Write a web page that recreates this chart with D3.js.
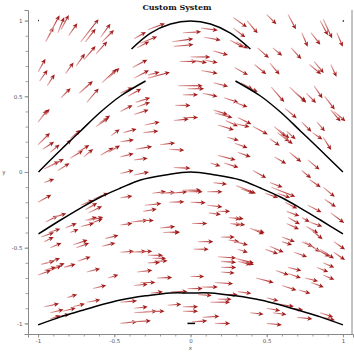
<!DOCTYPE html>
<html><head><meta charset="utf-8">
<script src="https://cdn.jsdelivr.net/npm/d3@7"></script>
<style>body{margin:0;background:#fff}svg{display:block}</style>
</head><body>
<svg id="c" width="354" height="354"></svg>
<script>
const title = "Custom System";
const xLabel = "x", yLabel = "y";
const xTicks = [-1, -0.5, 0, 0.5, 1];
const xTickLabels = ["-1", "-0.5", "0", "0.5", "1"];
const yTicks = [-1, -0.5, 0, 0.5, 1];
const yTickLabels = ["-1", "-0.5", "0", "0.5", "1"];

// solution curves (x, y)
const curve1X = [-0.387, -0.262, -0.131, 0, 0.131, 0.262, 0.393];
const curve1Y = [0.812, 0.917, 0.977, 0.997, 0.977, 0.917, 0.812];
const curve2aX = [-0.997, -0.852, -0.721, -0.590, -0.459, -0.295];
const curve2aY = [0, 0.145, 0.271, 0.396, 0.502, 0.601];
const curve2bX = [0.295, 0.459, 0.590, 0.721, 0.852, 1.0];
const curve2bY = [0.601, 0.502, 0.396, 0.271, 0.145, 0];
const curve3X = [-0.997, -0.852, -0.721, -0.590, -0.459, -0.328, -0.164, 0, 0.164, 0.328, 0.459, 0.590, 0.721, 0.852, 1.0];
const curve3Y = [-0.409, -0.317, -0.238, -0.165, -0.106, -0.053, -0.020, 0, -0.020, -0.053, -0.106, -0.165, -0.238, -0.317, -0.409];
const curve4X = [-1.0, -0.852, -0.721, -0.590, -0.459, -0.295, -0.131, 0, 0.131, 0.295, 0.459, 0.590, 0.721, 0.852, 1.0];
const curve4Y = [-1.01, -0.957, -0.917, -0.878, -0.845, -0.818, -0.799, -0.799, -0.799, -0.818, -0.845, -0.878, -0.917, -0.957, -1.01];
const curve5X = [-0.02, 0.03], curve5Y = [-1.0, -1.0];
const curve6X = [-1.0, -0.995], curve6Y = [1.0, 1.0];
const curve7X = [1.0, 1.005], curve7Y = [1.0, 0.995];

// arrows: [tail x, tail y, angle (deg), length]
const arrowsTop = [[-0.95,0.86,62,0.11],[-0.92,0.92,62,0.13],[-0.87,0.92,68,0.11],[-0.85,0.94,62,0.11],[-0.80,0.90,55,0.10],[-0.72,0.86,52,0.19],[-0.69,0.86,52,0.11],[-0.59,0.89,54,0.11],[-0.58,0.86,45,0.11],[-0.37,0.88,30,0.09],[-0.35,0.82,28,0.09],[-0.28,0.94,20,0.12],[-0.33,0.85,22,0.12],[-0.12,0.86,8,0.14],[-0.11,0.83,5,0.13],[-0.05,0.92,3,0.12],[0.00,0.76,0,0.13],[0.07,0.95,-7,0.11],[0.09,0.89,-10,0.11],[0.15,0.80,-16,0.10],[0.26,0.87,-28,0.10],[0.28,1.02,-35,0.11],[0.37,1.00,-50,0.11],[0.28,0.95,-37,0.10],[0.30,0.86,-30,0.09],[0.50,1.04,-45,0.09],[0.64,1.04,-62,0.11],[0.44,0.82,-42,0.10],[0.54,0.82,-40,0.08],[0.73,0.92,-67,0.10],[0.79,0.92,-52,0.10],[0.85,1.00,-62,0.11],[0.87,1.01,-65,0.14],[0.96,0.92,-67,0.10],[0.66,0.82,-48,0.10],[-0.70,0.74,50,0.12],[-0.62,0.78,48,0.11],[-0.75,0.70,55,0.10]];
const arrowsLeftMid = [[-1.00,0.66,61,0.10],[-0.99,0.60,55,0.09],[-0.94,0.57,57,0.09],[-0.82,0.65,54,0.09],[-0.85,0.49,45,0.09],[-0.73,0.52,42,0.12],[-0.68,0.46,50,0.12],[-0.58,0.59,43,0.13],[-0.54,0.62,42,0.10],[-1.00,0.33,52,0.10],[-0.98,0.36,45,0.08],[-0.62,0.30,35,0.10],[-0.60,0.32,36,0.09],[-0.52,0.24,38,0.07],[-1.00,0.18,45,0.11],[-0.97,0.15,33,0.09],[-0.92,0.13,40,0.08],[-0.84,0.16,42,0.08],[-0.79,0.09,32,0.10],[-0.74,0.13,32,0.09],[-0.70,0.10,40,0.08],[-0.96,0.02,27,0.11],[-0.92,0.04,27,0.10],[-0.87,0.01,32,0.09],[-0.59,0.11,31,0.10],[-0.54,0.13,30,0.09],[-0.79,0.22,40,0.09]];
const arrowsCenterTop = [[-0.38,0.69,28,0.11],[-0.37,0.62,28,0.11],[-0.28,0.64,15,0.08],[-0.28,0.62,15,0.15],[-0.46,0.52,25,0.09],[-0.41,0.50,30,0.10],[-0.36,0.46,18,0.10],[-0.35,0.43,20,0.09],[-0.46,0.40,27,0.09],[-0.37,0.38,18,0.10],[-0.30,0.31,12,0.10],[-0.31,0.26,6,0.10],[-0.44,0.26,16,0.09],[-0.46,0.20,8,0.09],[-0.36,0.15,10,0.11],[-0.46,0.10,14,0.09],[-0.37,0.08,7,0.09],[-0.20,0.18,7,0.10],[-0.14,0.15,-4,0.10],[-0.11,0.03,-3,0.11],[-0.46,-0.01,14,0.09],[-0.37,-0.02,12,0.10],[-0.07,0.73,0,0.11],[0.00,0.74,-10,0.11],[0.07,0.67,-10,0.11],[-0.08,0.57,0,0.16],[-0.02,0.55,0,0.11],[-0.05,0.51,0,0.10],[-0.10,0.44,0,0.10],[-0.05,0.36,0,0.10],[-0.11,0.34,6,0.10],[0.08,0.52,-12,0.10],[0.15,0.59,-15,0.10],[0.22,0.49,-18,0.10],[0.15,0.41,-18,0.10],[0.16,0.39,-15,0.12],[0.18,0.31,-17,0.11],[0.23,0.34,-25,0.09],[0.24,0.23,-16,0.08],[0.18,0.11,-15,0.12],[0.22,0.06,-18,0.10],[0.13,0.06,-18,0.07],[0.09,0.74,-12,0.09]];
const arrowsRightTop = [[0.42,0.71,-40,0.10],[0.52,0.72,-50,0.10],[0.29,0.69,-30,0.10],[0.33,0.59,-30,0.09],[0.35,0.57,-24,0.10],[0.78,0.71,-40,0.10],[0.81,0.73,-50,0.10],[0.92,0.71,-65,0.09],[0.53,0.56,-49,0.13],[0.65,0.56,-43,0.15],[0.68,0.53,-40,0.10],[0.76,0.52,-45,0.09],[0.81,0.57,-56,0.10],[0.88,0.50,-53,0.11],[0.92,0.41,-50,0.10],[0.94,0.40,-40,0.10],[0.29,0.46,-20,0.09],[0.31,0.36,-26,0.10],[0.29,0.32,-13,0.10],[0.41,0.30,-28,0.11],[0.62,0.42,-40,0.10],[0.55,0.30,-42,0.10],[0.57,0.26,-37,0.10],[0.73,0.33,-45,0.09],[0.83,0.33,-50,0.08],[0.87,0.23,-58,0.10],[0.29,0.19,-20,0.09],[0.31,0.13,-20,0.09],[0.41,0.01,-30,0.10],[0.55,0.10,-30,0.09],[0.65,0.13,-40,0.10],[0.77,0.08,-40,0.10],[0.73,0.01,-40,0.08],[0.80,0.26,-35,0.08],[0.58,0.28,-40,0.09],[0.60,0.24,-38,0.09],[0.63,0.27,-42,0.08],[0.52,0.22,-35,0.08]];
const arrowsCenterBottom = [[-0.25,-0.14,7,0.09],[-0.20,-0.14,3,0.10],[-0.13,-0.14,5,0.11],[-0.05,-0.12,0,0.12],[-0.02,-0.13,0,0.10],[-0.46,-0.17,8,0.08],[0.15,-0.07,-7,0.09],[0.11,-0.13,0,0.10],[-0.30,-0.22,6,0.11],[-0.31,-0.26,10,0.09],[-0.14,-0.20,2,0.10],[0.00,-0.20,-2,0.10],[0.11,-0.22,-6,0.10],[0.12,-0.27,-8,0.08],[0.18,-0.26,0,0.08],[-0.39,-0.33,6,0.11],[-0.34,-0.32,0,0.10],[-0.46,-0.35,8,0.08],[-0.20,-0.37,6,0.10],[-0.18,-0.40,2,0.11],[-0.15,-0.40,0,0.08],[0.01,-0.34,0,0.10],[0.25,-0.30,-8,0.08],[0.26,-0.34,-8,0.07],[0.05,-0.46,0,0.10],[0.02,-0.51,0,0.10],[0.20,-0.43,0,0.09],[0.25,-0.45,-8,0.07],[-0.46,-0.53,4,0.09],[-0.39,-0.53,4,0.10],[-0.35,-0.53,4,0.10],[-0.28,-0.55,0,0.10],[-0.25,-0.57,0,0.09],[-0.24,-0.59,2,0.09],[-0.28,-0.60,2,0.08],[0.18,-0.56,-4,0.12],[0.20,-0.59,-4,0.10],[0.20,-0.63,0,0.10],[-0.35,-0.66,6,0.10],[0.00,-0.69,0,0.09],[-0.22,-0.70,2,0.10],[0.20,-0.66,-5,0.09],[-0.37,-0.75,6,0.09],[-0.33,-0.73,0,0.10],[-0.26,-0.80,6,0.08],[-0.13,-0.79,0,0.11],[-0.02,-0.77,0,0.10],[0.07,-0.76,0,0.11],[0.16,-0.73,-4,0.12],[0.05,-0.81,-4,0.09],[0.20,-0.81,0,0.11]];
const arrowsRightBottom = [[0.30,-0.09,-22,0.14],[0.33,-0.11,-20,0.09],[0.52,-0.07,-20,0.09],[0.53,-0.10,-22,0.17],[0.49,-0.14,-20,0.09],[0.57,-0.14,-20,0.09],[0.78,-0.05,-34,0.09],[0.87,-0.10,-40,0.10],[0.88,-0.18,-35,0.09],[0.77,-0.22,-27,0.10],[0.62,-0.20,-27,0.09],[0.92,-0.27,-37,0.11],[0.29,-0.30,-10,0.06],[0.30,-0.34,-10,0.06],[0.39,-0.37,-24,0.10],[0.42,-0.38,-18,0.07],[0.63,-0.26,-20,0.09],[0.64,-0.30,-30,0.09],[0.63,-0.34,-25,0.09],[0.73,-0.30,-30,0.06],[0.76,-0.36,-30,0.09],[0.78,-0.33,-20,0.09],[0.79,-0.38,-40,0.10],[0.60,-0.43,-20,0.09],[0.60,-0.46,-18,0.07],[0.73,-0.46,-24,0.08],[0.75,-0.46,-34,0.12],[0.81,-0.50,-30,0.12],[0.85,-0.51,-34,0.11],[0.94,-0.46,-35,0.09],[0.94,-0.53,-35,0.09],[0.68,-0.53,-20,0.09],[0.49,-0.51,-20,0.09],[0.52,-0.49,-24,0.10],[0.29,-0.46,-14,0.09],[0.31,-0.51,-18,0.07],[0.29,-0.57,-14,0.13],[0.31,-0.59,-14,0.09],[0.34,-0.59,-16,0.08],[0.56,-0.65,-20,0.09],[0.64,-0.63,-14,0.09],[0.64,-0.67,-20,0.09],[0.75,-0.70,-14,0.09],[0.79,-0.73,-20,0.09],[0.87,-0.68,-23,0.08],[0.83,-0.63,-23,0.08],[0.87,-0.60,-23,0.08],[0.43,-0.70,-15,0.12],[0.60,-0.75,-18,0.10],[0.71,-0.78,-16,0.08],[0.31,-0.79,-8,0.09],[0.50,-0.83,-16,0.08]];
const arrowsLeftBottom = [[-0.96,-0.07,20,0.07],[-1.00,-0.20,30,0.10],[-0.95,-0.33,27,0.09],[-0.90,-0.30,17,0.09],[-0.72,-0.22,23,0.09],[-0.69,-0.25,30,0.09],[-0.67,-0.27,26,0.10],[-0.66,-0.34,20,0.09],[-0.64,-0.18,22,0.11],[-0.69,-0.32,16,0.08],[-0.98,-0.43,20,0.09],[-0.96,-0.46,26,0.07],[-0.93,-0.40,18,0.08],[-0.82,-0.37,23,0.08],[-0.79,-0.40,22,0.06],[-0.77,-0.48,18,0.10],[-0.75,-0.50,20,0.09],[-0.92,-0.50,23,0.08],[-0.72,-0.36,14,0.09],[-0.67,-0.32,13,0.10],[-0.58,-0.49,14,0.09],[-0.56,-0.44,14,0.09],[-0.98,-0.61,14,0.09],[-0.94,-0.60,20,0.09],[-0.92,-0.65,23,0.08],[-0.89,-0.63,23,0.07],[-1.00,-0.68,20,0.09],[-0.96,-0.65,16,0.08],[-0.83,-0.63,16,0.08],[-0.74,-0.59,20,0.09],[-0.68,-0.66,14,0.09],[-0.64,-0.77,14,0.09],[-0.54,-0.70,18,0.07],[-0.96,-0.89,12,0.10],[-0.92,-0.93,14,0.09],[-0.89,-0.96,12,0.10],[-0.84,-0.92,14,0.09],[-0.81,-0.83,18,0.07],[-0.77,-0.89,14,0.08],[-0.68,-0.86,10,0.09],[-0.92,-0.97,18,0.07]];
const arrowsBottom = [[-0.46,-0.86,5,0.11],[-0.37,-0.90,6,0.09],[-0.37,-0.93,4,0.15],[-0.28,-0.92,0,0.11],[-0.46,-1.00,6,0.11],[-0.39,-0.99,3,0.13],[-0.15,-0.88,4,0.09],[-0.05,-0.89,0,0.10],[-0.05,-0.92,0,0.10],[0.01,-0.99,4,0.10],[0.08,-0.96,4,0.11],[0.16,-1.00,0,0.10],[0.13,-0.86,0,0.13],[0.18,-0.84,0,0.09],[0.39,-0.93,-6,0.09],[0.50,-0.90,-10,0.09],[0.54,-0.93,-7,0.09],[0.50,-1.00,-6,0.10],[0.57,-0.87,-10,0.11],[0.66,-0.90,-8,0.08],[0.70,-0.96,-6,0.10],[0.85,-0.93,-18,0.09],[0.87,-0.96,-14,0.08]];

const W = 354, H = 354;
const svg = d3.select("#c");
const sx = d3.scaleLinear().domain([-1.066, 1.066]).range([28, 353]);
const sy = d3.scaleLinear().domain([-1.07, 1.07]).range([334, 10]);

// title
svg.append("text").attr("x", W / 2).attr("y", 9.5).attr("text-anchor", "middle")
  .attr("font-family", "DejaVu Serif, Liberation Serif, serif").attr("font-weight", "bold")
  .attr("font-size", 8).attr("fill", "#111").text(title);

// axes
const axisColor = "#888";
const minor = sx.ticks(20);
const gx = svg.append("g").attr("transform", `translate(0,${sy.range()[0]})`);
gx.call(d3.axisBottom(sx).tickValues(minor).tickSize(2.5).tickFormat(""));
gx.call(g => g.select(".domain").remove());
const gx2 = svg.append("g").attr("transform", `translate(0,${sy.range()[0]})`);
gx2.call(d3.axisBottom(sx).tickValues(xTicks).tickSize(3.5).tickPadding(2).tickFormat((d, i) => xTickLabels[i]));
gx2.selectAll(".domain").attr("stroke", axisColor).attr("stroke-width", 1);
[gx, gx2].forEach(g => g.selectAll(".tick line").attr("stroke", axisColor).attr("stroke-width", 0.8));
gx2.selectAll(".tick text").attr("font-size", 5.5).attr("fill", "#555").attr("font-family", "DejaVu Sans, sans-serif");

const gy = svg.append("g").attr("transform", `translate(${sx.range()[0]},0)`);
gy.call(d3.axisLeft(sy).tickValues(sy.ticks(20)).tickSize(2.5).tickFormat(""));
gy.call(g => g.select(".domain").remove());
const gy2 = svg.append("g").attr("transform", `translate(${sx.range()[0]},0)`);
gy2.call(d3.axisLeft(sy).tickValues(yTicks).tickSize(3.5).tickPadding(2).tickFormat((d, i) => yTickLabels[i]));
gy2.selectAll(".domain").attr("stroke", axisColor).attr("stroke-width", 1);
[gy, gy2].forEach(g => g.selectAll(".tick line").attr("stroke", axisColor).attr("stroke-width", 0.8));
gy2.selectAll(".tick text").attr("font-size", 5.5).attr("fill", "#555").attr("font-family", "DejaVu Sans, sans-serif");

// right frame line
svg.append("line").attr("x1", sx.range()[1] - 1).attr("x2", sx.range()[1] - 1)
  .attr("y1", sy.range()[1]).attr("y2", sy.range()[0]).attr("stroke", axisColor).attr("stroke-width", 1);

// axis labels
svg.append("text").attr("x", sx(0)).attr("y", 350).attr("text-anchor", "middle")
  .attr("font-size", 5.5).attr("fill", "#555").attr("font-family", "DejaVu Sans, sans-serif").text(xLabel);
svg.append("text").attr("x", 4).attr("y", sy(0) + 2).attr("text-anchor", "middle")
  .attr("font-size", 5.5).attr("fill", "#555").attr("font-family", "DejaVu Sans, sans-serif").text(yLabel);

// arrows
const defs = svg.append("defs");
const allArrows = [].concat(arrowsTop, arrowsLeftMid, arrowsCenterTop, arrowsRightTop,
  arrowsCenterBottom, arrowsRightBottom, arrowsLeftBottom, arrowsBottom);
const ga = svg.append("g");
allArrows.forEach((a, i) => {
  const [x, y, ang, len] = a;
  const r = ang * Math.PI / 180;
  const x0 = sx(x), y0 = sy(y);
  const x1 = sx(x + len * Math.cos(r)), y1 = sy(y + len * Math.sin(r));
  const L = Math.hypot(x1 - x0, y1 - y0);
  const ux = (x1 - x0) / L, uy = (y1 - y0) / L;
  const hl = 5, hw = 2.3;
  const bx = x1 - ux * hl, by = y1 - uy * hl;
  const gid = "ag" + i;
  const grad = defs.append("linearGradient").attr("id", gid).attr("gradientUnits", "userSpaceOnUse")
    .attr("x1", x0).attr("y1", y0).attr("x2", x1).attr("y2", y1);
  grad.append("stop").attr("offset", 0).attr("stop-color", "#eab8b8");
  grad.append("stop").attr("offset", 0.55).attr("stop-color", "#c05050");
  grad.append("stop").attr("offset", 1).attr("stop-color", "#a31c1c");
  ga.append("line").attr("x1", x0).attr("y1", y0).attr("x2", bx + ux).attr("y2", by + uy)
    .attr("stroke", `url(#${gid})`).attr("stroke-width", 1.1);
  ga.append("path")
    .attr("d", `M${x1},${y1}L${bx - uy * hw},${by + ux * hw}L${bx + ux * 1.2},${by + uy * 1.2}L${bx + uy * hw},${by - ux * hw}Z`)
    .attr("fill", "#a31c1c");
});

// curves
const line = d3.line().x(d => sx(d[0])).y(d => sy(d[1])).curve(d3.curveCatmullRom);
const curves = [[curve1X, curve1Y], [curve2aX, curve2aY], [curve2bX, curve2bY], [curve3X, curve3Y],
  [curve4X, curve4Y], [curve5X, curve5Y], [curve6X, curve6Y], [curve7X, curve7Y]];
curves.forEach(([xs, ys]) => {
  svg.append("path").datum(xs.map((v, i) => [v, ys[i]])).attr("d", line)
    .attr("fill", "none").attr("stroke", "#000").attr("stroke-width", 1.5);
});
</script>
</body></html>
